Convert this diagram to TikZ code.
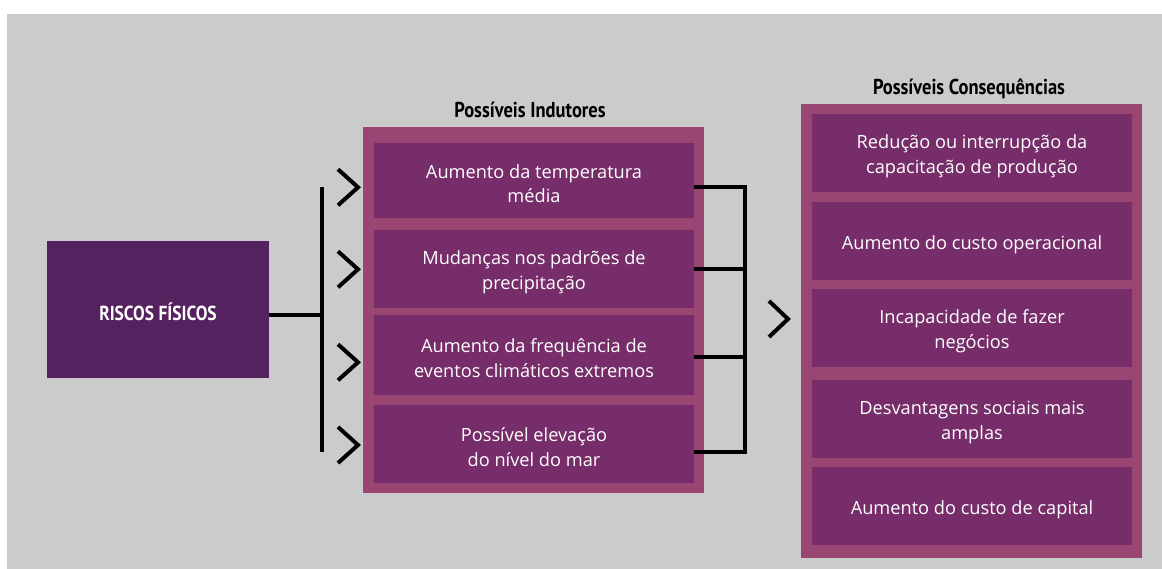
\documentclass[tikz,border=0pt]{standalone}
\usepackage{fontspec}
\setmainfont{Open Sans}
\newfontfamily\condb[FakeStretch=0.86]{PT Sans}
\definecolor{bg}{HTML}{CBCBCB}
\definecolor{darkp}{HTML}{55215E}
\definecolor{innerp}{HTML}{762D69}
\definecolor{outerp}{HTML}{9A4673}
\begin{document}
\begin{tikzpicture}[x=1pt,y=-1pt,
  inbox/.style={fill=innerp,draw=none,minimum width=320pt,inner sep=0pt},
  lbl/.style={text=white,align=center,inner sep=0pt,yshift=-3.5pt,
    font=\fontsize{18.2}{24.5}\selectfont},
  outbox/.style={fill=outerp,draw=none},
  title/.style={font=\condb\bfseries\fontsize{21.5}{24}\selectfont,text=black,inner sep=0pt},
  conn/.style={line width=4pt,draw=black},
  chev/.style={line width=4pt,draw=black,miter limit=10}]
\useasboundingbox (0,0) rectangle (1162,569);
\fill[bg] (7,14) rectangle (1162,569);
% RISCOS FISICOS
\node[fill=darkp,minimum width=222pt,minimum height=137pt,inner sep=0pt,
  label={[text=white,inner sep=0pt,yshift=-2pt,font=\condb\bfseries\fontsize{20.3}{22}\selectfont]center:RISCOS FÍSICOS}] (risk) at (158,309.5) {};
% Indutores
\node[outbox,minimum width=341pt,minimum height=365.7pt,inner sep=0pt] (indo) at (533.5,309.85) {};
\node[title] (indt) at (530,110) {Possíveis Indutores};
\node[inbox,minimum height=75pt,label={[lbl]center:{Aumento da temperatura\\média}}] (i1) at (534,180.2) {};
\node[inbox,minimum height=77.7pt,label={[lbl]center:{Mudanças nos padrões de\\precipitação}}] (i2) at (534,268.85) {};
\node[inbox,minimum height=79.7pt,label={[lbl]center:{Aumento da frequência de\\eventos climáticos extremos}}] (i3) at (534,354.85) {};
\node[inbox,minimum height=77.7pt,label={[lbl]center:{Possível elevação\\do nível do mar}}] (i4) at (534,443.85) {};
% Consequencias
\node[outbox,minimum width=341pt,minimum height=453.7pt,inner sep=0pt] (cono) at (971.5,330.85) {};
\node[title] (cont) at (969,88.5) {Possíveis Consequências};
\node[inbox,minimum height=77.7pt,label={[lbl]center:{Redução ou interrupção da\\capacitação de produção}}] (c1) at (972,152.85) {};
\node[inbox,minimum height=77.7pt,label={[lbl]center:{Aumento do custo operacional}}] (c2) at (972,240.85) {};
\node[inbox,minimum height=77.7pt,label={[lbl]center:{Incapacidade de fazer\\negócios}}] (c3) at (972,327.85) {};
\node[inbox,minimum height=77.7pt,label={[lbl]center:{Desvantagens sociais mais\\amplas}}] (c4) at (972,418.85) {};
\node[inbox,minimum height=77.7pt,label={[lbl]center:{Aumento do custo de capital}}] (c5) at (972,505.85) {};
% left bracket
\coordinate (lt) at (322,187);
\coordinate (lb) at (322,452);
\coordinate (lm) at (322,315.3);
\draw[conn] (lt) -- (lb);
\draw[conn] (risk.east |- lm) -- (lm);
% right bracket
\coordinate (r1) at (745,186.7);
\coordinate (r2) at (745,269);
\coordinate (r3) at (745,356.7);
\coordinate (r4) at (745,451.7);
\draw[conn] (i1.east |- r1) -- (r1) -- (r4) -- (i4.east |- r4);
\draw[conn] (i2.east |- r2) -- (r2);
\draw[conn] (i3.east |- r3) -- (r3);
% chevrons
\foreach \yy in {187.3,269.3,362.3,445}{
  \draw[chev] (338,\yy-18) -- (358,\yy) -- (338,\yy+18);
}
\draw[chev] (769,301) -- (788,319) -- (769,337);
\end{tikzpicture}
\end{document}
